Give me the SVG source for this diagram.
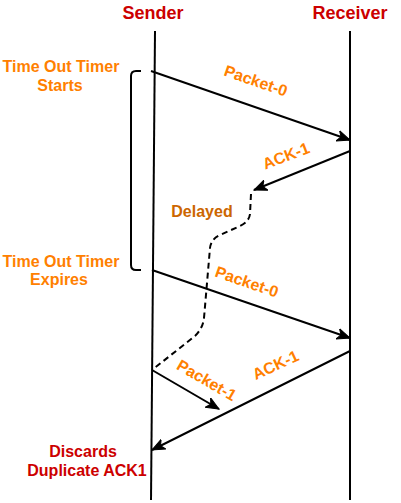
<svg xmlns="http://www.w3.org/2000/svg" width="401" height="503" viewBox="0 0 401 503">
<style>
text{font-family:"Liberation Sans",Arial,sans-serif;font-weight:bold;text-anchor:middle}
.title{font-size:18px;fill:#CC0000}
.red{font-size:16px;fill:#CC0000}
.or{font-size:16px;fill:#FF8000}
.dk{font-size:16px;fill:#CC6600}
.ln{stroke:#000;stroke-width:2;fill:none}
.arr{stroke:#000;stroke-width:2;fill:none;marker-end:url(#ah)}
.dash{stroke:#000;stroke-width:2;fill:none;stroke-dasharray:6 4}
</style>
<defs>
<marker id="ah" markerUnits="userSpaceOnUse" markerWidth="14" markerHeight="12" viewBox="0 0 14 12" refX="13" refY="6" orient="auto">
<path d="M0,0.5 L13,6 L0,11.5 L3.5,6 Z" fill="#000" stroke="#000" stroke-width="1" stroke-linejoin="miter"/>
</marker>
</defs>
<rect width="401" height="503" fill="#fff"/>
<g id="sender">
<text class="title" x="153" y="19">Sender</text>
<path class="ln" d="M155,31 L151,500"/>
</g>
<g id="receiver">
<text class="title" x="350" y="19">Receiver</text>
<path class="ln" d="M350,31 L350,500"/>
</g>
<g id="timer-bracket">
<path class="ln" d="M141,71 H136 Q131,71 131,76 V265 Q131,270 136,270 H141"/>
</g>
<g id="timer-starts">
<text class="or" x="61" y="72">Time Out Timer</text>
<text class="or" x="60" y="91">Starts</text>
</g>
<g id="timer-expires">
<text class="or" x="61" y="267">Time Out Timer</text>
<text class="or" x="59" y="285">Expires</text>
</g>
<g id="delayed">
<text class="dk" x="202" y="217">Delayed</text>
</g>
<g id="discards">
<text class="red" x="83" y="457">Discards</text>
<text class="red" x="87" y="476">Duplicate ACK1</text>
</g>
<g id="connectors">
<path class="arr" d="M151,71 L350,140"/>
<path class="arr" d="M350,151 L254,190"/>
<path class="dash" d="M251,194 L250,214 Q249,222 240,226 L220,235 Q211,239 210,248 L204,318 Q203,328 195,336 L152,370"/>
<path class="arr" d="M152,270 L350,338"/>
<path class="arr" d="M152,370 L219,409"/>
<path class="arr" d="M350,351 L152,450"/>
</g>
<g id="connector-labels">
<text class="or" transform="translate(254,86) rotate(19)">Packet-0</text>
<text class="or" transform="translate(288,161) rotate(-21)">ACK-1</text>
<text class="or" transform="translate(245,287) rotate(19)">Packet-0</text>
<text class="or" transform="translate(204,385) rotate(30)">Packet-1</text>
<text class="or" transform="translate(278,370) rotate(-25)">ACK-1</text>
</g>
</svg>
